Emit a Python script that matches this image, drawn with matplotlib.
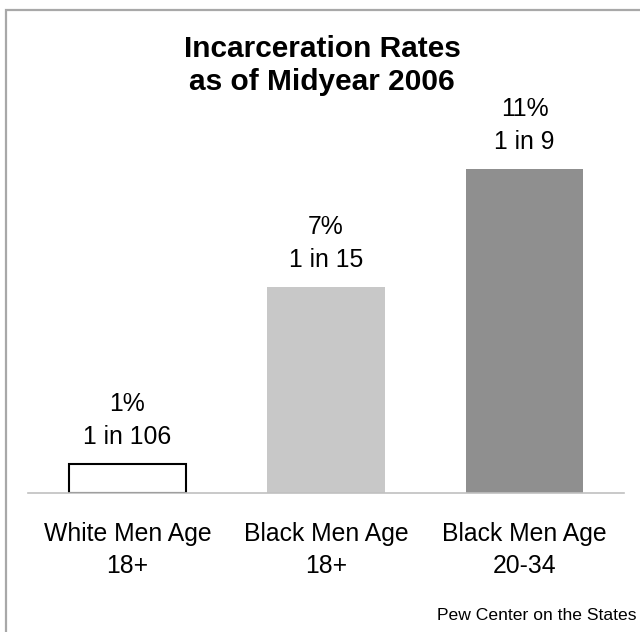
import matplotlib.pyplot as plt
from matplotlib.patches import Rectangle

plt.rcParams['font.family'] = ['Liberation Sans', 'DejaVu Sans']

groups = ['White Men Age\n18+', 'Black Men Age\n18+', 'Black Men Age\n20-34']
rates = [1, 7, 11]
one_in = [106, 15, 9]
fills = ['white', '#c8c8c8', '#8f8f8f']
edges = ['black', '#c8c8c8', '#8f8f8f']

fig = plt.figure(figsize=(6.4, 6.32), dpi=100)

# grey frame around the panel, running off the right and bottom edges
fig.patches.append(Rectangle((6 / 640, -0.1), 1.2, 1 - 10 / 632 + 0.1,
                             transform=fig.transFigure, fill=False,
                             edgecolor='#a8a8a8', linewidth=1.6))

ax = fig.add_axes([28 / 640, 1 - 493 / 632, 596 / 640, 463 / 632])
x = range(len(rates))
ax.bar(x, rates, width=0.59, color=fills, edgecolor=edges,
       linewidth=[1.5, 0, 0])
ax.set_xlim(-0.5, 2.5)
ax.set_ylim(0, 15.7)

for xi, r, n in zip(x, rates, one_in):
    ax.annotate(f'{r}%\n1 in {n}', (xi, r), xytext=(0, 14.4),
                textcoords='offset points', ha='center', va='baseline',
                fontsize=17.8, linespacing=1.43)

# category names under the baseline
for xi, g in zip(x, groups):
    ax.annotate(g, (xi, 0), xytext=(0, -57.6), textcoords='offset points',
                ha='center', va='baseline', fontsize=17.8, linespacing=1.43)

ax.set_xticks([])
ax.set_yticks([])
for side in ['top', 'left', 'right']:
    ax.spines[side].set_visible(False)
ax.spines['bottom'].set_color('#c0c0c0')
ax.spines['bottom'].set_linewidth(1.2)
ax.patch.set_alpha(0)

fig.text(322 / 640, 1 - 90 / 632, 'Incarceration Rates\nas of Midyear 2006',
         ha='center', va='baseline', fontsize=21.5, fontweight='bold',
         linespacing=1.22)
fig.text(0.994, 1 - 620 / 632, 'Pew Center on the States', ha='right',
         va='baseline', fontsize=12.6)

fig.savefig('out.png', dpi=100)
